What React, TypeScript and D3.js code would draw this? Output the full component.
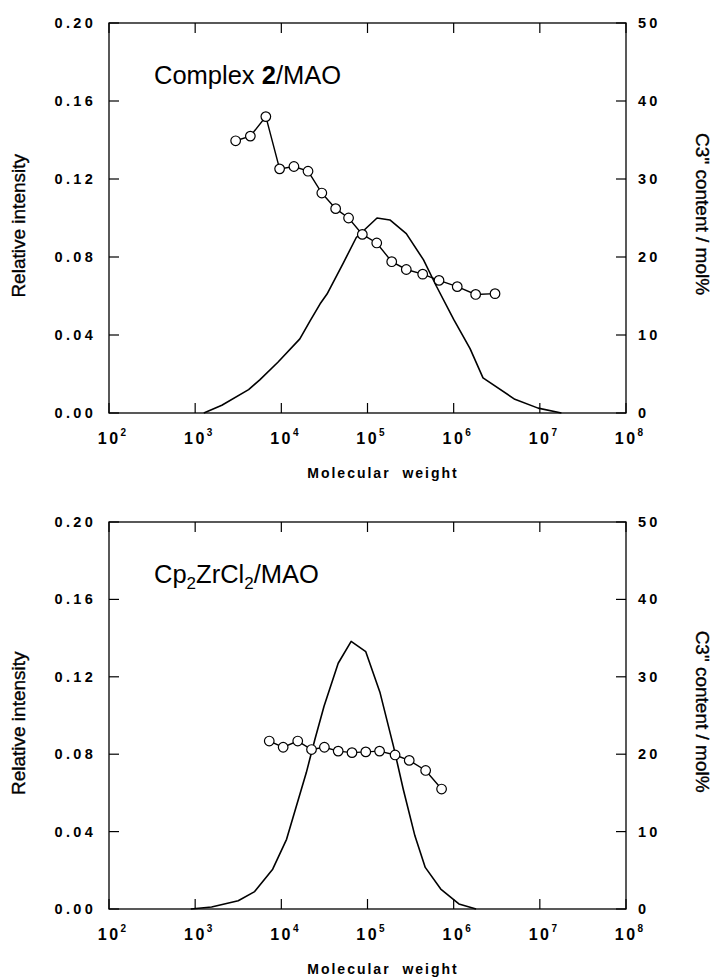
import React from 'react';
import * as d3 from 'd3';

// ---- data ----
// upper panel: Complex 2/MAO
const topCurveMw = [1260, 2040, 4170, 5620, 9120, 16400, 21400, 28200, 33900, 52500, 74100, 129000, 182000, 282000, 447000, 631000, 1000000, 1550000, 2190000, 5130000, 9550000, 17800000];
const topCurveIntensity = [0, 0.004, 0.012, 0.017, 0.026, 0.038, 0.047, 0.056, 0.061, 0.077, 0.09, 0.1, 0.099, 0.092, 0.0785, 0.065, 0.048, 0.033, 0.018, 0.007, 0.0025, 0];
const topC3Mw = [2950, 4370, 6610, 9550, 14000, 20400, 29500, 42700, 60300, 87100, 128000, 191000, 282000, 437000, 676000, 1100000, 1800000, 3020000];
const topC3Content = [34.9, 35.5, 38.0, 31.3, 31.6, 31.0, 28.2, 26.2, 25.0, 22.9, 21.8, 19.4, 18.4, 17.8, 17.0, 16.2, 15.2, 15.3];

// lower panel: Cp2ZrCl2/MAO
const botCurveMw = [890, 1550, 3160, 4900, 7940, 11500, 19500, 24500, 31300, 45700, 64600, 95500, 140000, 200000, 260000, 355000, 468000, 708000, 1150000, 1820000];
const botCurveIntensity = [0, 0.001, 0.0043, 0.009, 0.0206, 0.036, 0.0705, 0.0876, 0.1048, 0.127, 0.1383, 0.133, 0.1117, 0.0842, 0.0619, 0.0378, 0.0215, 0.0103, 0.0026, 0];
const botC3Mw = [7240, 10500, 15500, 22400, 31600, 45700, 66100, 95500, 138000, 209000, 305000, 473000, 724000];
const botC3Content = [21.7, 20.9, 21.7, 20.6, 20.9, 20.4, 20.2, 20.3, 20.4, 19.9, 19.2, 17.9, 15.5];

const mwExponents = [2, 3, 4, 5, 6, 7, 8];
const intensityTicks = [0, 0.04, 0.08, 0.12, 0.16, 0.2];
const c3Ticks = [0, 10, 20, 30, 40, 50];

const W = 714;
const H = 979;
const L = 109;
const R = 626;
const TICK = 10;

const sans = 'Liberation Sans, Arial, Helvetica, sans-serif';
const tickFont = { fontFamily: sans, fontWeight: 700, fontSize: 14.5, letterSpacing: 3.3 };
const xTickFont = { fontFamily: sans, fontWeight: 700, fontSize: 16, letterSpacing: 2.5 };
const titleFont = { fontFamily: sans, fontSize: 19, stroke: '#000', strokeWidth: 0.35 };

function Panel({ top, bottom, title, curveMw, curveInt, c3Mw, c3 }: any) {
  const x = d3.scaleLog().domain([1e2, 1e8]).range([L, R]);
  const y = d3.scaleLinear().domain([0, 0.2]).range([bottom, top]);
  const y2 = d3.scaleLinear().domain([0, 50]).range([bottom, top]);

  const curve = d3.line<number>()
    .x((d, i) => x(curveMw[i]))
    .y(d => y(d));
  const c3line = d3.line<number>()
    .x((d, i) => x(c3Mw[i]))
    .y(d => y2(d));

  const h = bottom - top;

  return (
    <g>
      {/* frame */}
      <rect x={L} y={top} width={R - L} height={h} fill="none" stroke="#000" strokeWidth={1.3} />

      {/* x ticks, bottom and top */}
      {mwExponents.map(e => (
        <g key={e}>
          <line x1={x(10 ** e)} x2={x(10 ** e)} y1={bottom} y2={bottom - TICK} stroke="#000" strokeWidth={1.2} />
          <line x1={x(10 ** e)} x2={x(10 ** e)} y1={top} y2={top + TICK} stroke="#000" strokeWidth={1.2} />
          <text x={x(10 ** e) + 3} y={bottom + 31} textAnchor="middle" style={xTickFont}>
            10<tspan dy={-8} fontSize={10} letterSpacing={0}>{e}</tspan>
          </text>
        </g>
      ))}

      {/* left axis */}
      {intensityTicks.map(t => (
        <g key={t}>
          <line x1={L} x2={L + TICK} y1={y(t)} y2={y(t)} stroke="#000" strokeWidth={1.2} />
          <text x={96} y={y(t) + 5} textAnchor="end" style={tickFont}>{t.toFixed(2)}</text>
        </g>
      ))}

      {/* right axis */}
      {c3Ticks.map(t => (
        <g key={t}>
          <line x1={R} x2={R - TICK} y1={y2(t)} y2={y2(t)} stroke="#000" strokeWidth={1.2} />
          <text x={638} y={y2(t) + 5} textAnchor="start" style={tickFont}>{t}</text>
        </g>
      ))}

      {/* axis titles */}
      <text transform={`translate(25,${top + h * 0.52}) rotate(-90)`} textAnchor="middle" style={titleFont}>Relative intensity</text>
      <text transform={`translate(696,${top + h * 0.49}) rotate(90)`} textAnchor="middle" style={titleFont}>C3" content / mol%</text>
      <text x={383} y={bottom + 65} textAnchor="middle" style={{ ...tickFont, fontSize: 14, letterSpacing: 2 }}>Molecular{'\u00a0\u00a0'}weight</text>

      {/* panel label */}
      <text x={154} y={top + 61} style={{ fontFamily: sans, fontSize: 25.5 }}>{title}</text>

      {/* molecular weight distribution */}
      <path d={curve(curveInt) || ''} fill="none" stroke="#000" strokeWidth={1.6} strokeLinejoin="round" />

      {/* C3 content */}
      <path d={c3line(c3) || ''} fill="none" stroke="#000" strokeWidth={1.4} />
      {c3.map((v: number, i: number) => (
        <circle key={i} cx={x(c3Mw[i])} cy={y2(v)} r={4.8} fill="#fff" stroke="#000" strokeWidth={1.2} />
      ))}
    </g>
  );
}

export default function App() {
  return (
    <svg width={W} height={H} style={{ position: 'absolute', left: 0, top: 0, background: '#fff' }}>
      <rect width={W} height={H} fill="#fff" />
      <Panel
        top={23}
        bottom={413}
        title={<>Complex <tspan fontWeight={700}>2</tspan>/MAO</>}
        curveMw={topCurveMw}
        curveInt={topCurveIntensity}
        c3Mw={topC3Mw}
        c3={topC3Content}
      />
      <Panel
        top={522}
        bottom={909}
        title={<>Cp<tspan dy={6} fontSize={17}>2</tspan><tspan dy={-6}>ZrCl</tspan><tspan dy={6} fontSize={17}>2</tspan><tspan dy={-6}>/MAO</tspan></>}
        curveMw={botCurveMw}
        curveInt={botCurveIntensity}
        c3Mw={botC3Mw}
        c3={botC3Content}
      />
    </svg>
  );
}
